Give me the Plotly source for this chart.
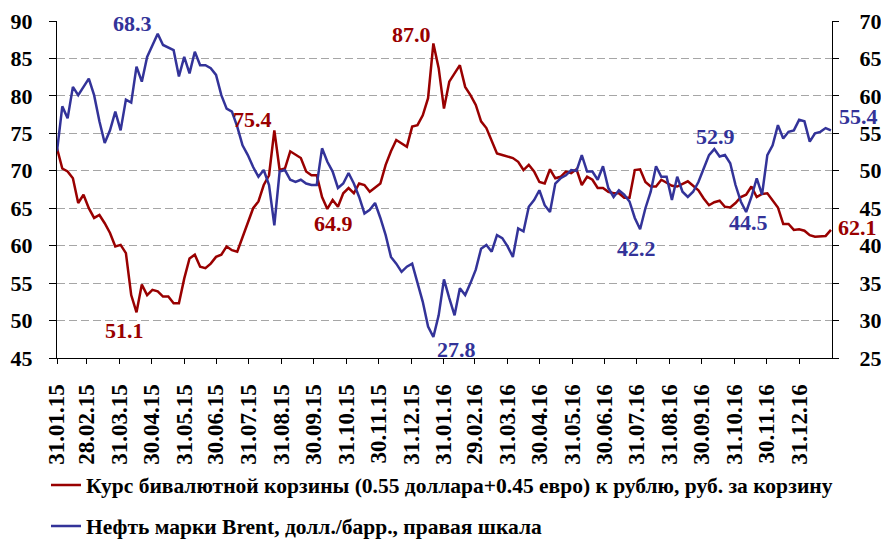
import pandas as pd
import plotly.graph_objects as go

# sampling dates (every 5 days from 31.01.2015 to 30.01.2017)
dates = pd.date_range("2015-01-31", periods=147, freq="5D")

basket = [
    73.0, 70.3, 69.9, 69.0, 65.7, 66.8, 65.0, 63.7, 64.1, 63.0,
    61.7, 59.9, 60.1, 59.0, 53.4, 51.1, 54.8, 53.4, 54.1, 53.9,
    53.2, 53.2, 52.3, 52.3, 55.6, 58.3, 58.8, 57.2, 57.0, 57.6,
    58.5, 58.8, 59.9, 59.4, 59.2, 61.2, 63.0, 65.0, 65.9, 68.1,
    69.4, 75.4, 70.1, 70.3, 72.6, 72.1, 71.7, 69.9, 69.4, 69.4,
    66.5, 64.9, 66.1, 65.2, 67.0, 67.7, 67.0, 68.3, 68.1, 67.2,
    67.7, 68.3, 70.8, 72.6, 74.1, 73.7, 73.2, 75.9, 76.1, 77.4,
    79.7, 87.0, 83.7, 78.3, 81.9, 83.0, 84.1, 81.2, 80.1, 78.8,
    76.6, 75.7, 74.1, 72.3, 72.1, 71.9, 71.7, 71.2, 70.1, 70.8,
    69.9, 68.5, 68.3, 70.2, 69.0, 69.2, 69.9, 69.7, 70.2, 68.1,
    69.2, 68.8, 67.7, 67.7, 67.2, 67.0, 67.0, 66.4, 66.4, 70.1,
    70.2, 68.5, 67.9, 67.9, 68.8, 68.4, 68.0, 67.9, 68.2, 68.6,
    68.0, 67.4, 66.3, 65.4, 65.8, 66.0, 65.2, 65.1, 65.7, 66.5,
    66.8, 67.9, 66.5, 66.9, 67.0, 66.1, 65.1, 62.9, 62.9, 62.1,
    62.2, 62.0, 61.4, 61.2, 61.2, 61.3, 62.1,
]

brent = [
    52.6, 58.6, 57.0, 61.2, 60.1, 61.2, 62.3, 60.1, 56.6, 53.7,
    55.4, 57.9, 55.4, 59.5, 59.1, 63.9, 61.9, 65.2, 66.8, 68.3,
    66.8, 66.4, 66.1, 62.6, 65.2, 63.0, 65.9, 64.1, 64.1, 63.7,
    62.8, 60.1, 58.3, 57.9, 55.9, 53.4, 52.1, 50.5, 49.2, 50.1,
    48.1, 42.7, 49.9, 50.1, 48.8, 48.5, 48.8, 48.3, 48.1, 48.1,
    53.0, 51.2, 49.9, 47.7, 48.3, 49.7, 48.3, 46.5, 44.3, 44.8,
    45.7, 43.7, 41.4, 38.5, 37.6, 36.5, 37.2, 37.6, 35.2, 32.5,
    29.2, 27.8, 30.7, 35.5, 33.0, 30.7, 34.3, 33.4, 35.0, 36.8,
    39.6, 40.1, 39.2, 41.4, 41.0, 39.9, 38.5, 42.3, 41.9, 45.2,
    46.1, 47.4, 45.4, 44.5, 48.3, 49.0, 49.4, 50.1, 50.0, 52.1,
    49.9, 49.9, 48.8, 50.6, 47.7, 46.5, 47.4, 46.8, 45.9, 43.7,
    42.2, 45.0, 47.2, 50.6, 49.2, 49.2, 46.1, 49.2, 47.2, 46.5,
    47.2, 48.5, 50.3, 52.1, 52.9, 51.9, 52.1, 51.0, 48.1, 45.9,
    44.5, 46.5, 49.0, 46.8, 52.1, 53.4, 56.1, 54.3, 55.2, 55.4,
    56.8, 56.6, 53.9, 55.0, 55.2, 55.7, 55.4,
]

tick_dates = [
    "2015-01-31", "2015-02-28", "2015-03-31", "2015-04-30", "2015-05-31", "2015-06-30",
    "2015-07-31", "2015-08-31", "2015-09-30", "2015-10-31", "2015-11-30", "2015-12-31",
    "2016-01-31", "2016-02-29", "2016-03-31", "2016-04-30", "2016-05-31", "2016-06-30",
    "2016-07-31", "2016-08-31", "2016-09-30", "2016-10-31", "2016-11-30", "2016-12-31",
]
tick_labels = [pd.Timestamp(d).strftime("%d.%m.%y") for d in tick_dates]

name_basket = "Курс бивалютной корзины (0.55 доллара+0.45 евро) к рублю, руб. за корзину"
name_brent = "Нефть марки Brent, долл./барр., правая шкала"

RED = "#990000"
BLUE = "#333399"
FONT = "Liberation Serif"

# labels: (series, index, xshift, yshift)
labels = [
    ("brent", 19, -25, 10),
    ("basket", 41, -22, 11),
    ("basket", 71, -22, 9),
    ("basket", 15, -12, -18),
    ("basket", 51, 6, -15),
    ("brent", 71, 23, -12),
    ("brent", 124, 1, 13),
    ("brent", 110, -4, -19),
    ("brent", 130, 2, -11),
    ("brent", 146, 28, 14),
    ("basket", 146, 27, 2),
]

fig = go.Figure()
fig.add_trace(go.Scatter(x=dates, y=basket, name=name_basket, mode="lines",
                         line=dict(color=RED, width=2.5), yaxis="y", legend="legend"))
fig.add_trace(go.Scatter(x=dates, y=brent, name=name_brent, mode="lines",
                         line=dict(color=BLUE, width=2.5), yaxis="y2", legend="legend2"))

annotations = []
for s, i, dx, dy in labels:
    vals = basket if s == "basket" else brent
    annotations.append(dict(
        x=dates[i], y=vals[i], xref="x", yref="y" if s == "basket" else "y2",
        text=f"{vals[i]:.1f}", showarrow=False, xshift=dx, yshift=dy,
        font=dict(family=FONT, size=22, color=RED if s == "basket" else BLUE, weight="bold"),
    ))

tickfont = dict(family=FONT, size=22, color="black", weight="bold")
xtickfont = dict(family=FONT, size=23, color="black", weight="bold")
legfont = dict(family=FONT, size=21.5, color="black", weight="bold")

fig.update_layout(
    width=881, height=539,
    margin=dict(l=57, r=49, t=21, b=181, autoexpand=False),
    paper_bgcolor="white", plot_bgcolor="white",
    showlegend=True,
    annotations=annotations,
    xaxis=dict(type="date", range=["2015-01-31", "2017-01-31"],
               tickvals=tick_dates, ticktext=tick_labels, tickangle=-90,
               ticks="outside", ticklen=5, tickcolor="black", tickwidth=1,
               showline=True, linecolor="black", linewidth=1.3,
               showgrid=False, zeroline=False, tickfont=xtickfont,
               ticklabelstandoff=11, automargin=False),
    yaxis=dict(range=[45, 90], dtick=5, tick0=45, ticks="outside", ticklen=7,
               tickcolor="black", showline=True, linecolor="black", linewidth=1.3,
               showgrid=True, gridcolor="#A6A6A6", gridwidth=1.2, griddash="8px,4px",
               zeroline=False, tickfont=tickfont, ticklabelstandoff=12, automargin=False),
    yaxis2=dict(range=[25, 70], dtick=5, tick0=25, overlaying="y", side="right",
                ticks="outside", ticklen=6, tickcolor="black", showline=True,
                linecolor="black", linewidth=1.3, showgrid=False, zeroline=False,
                tickfont=tickfont, ticklabelstandoff=16, automargin=False),
    legend=dict(x=-0.0142, y=-0.377, xanchor="left", yanchor="middle",
                font=legfont, bgcolor="rgba(0,0,0,0)"),
    legend2=dict(x=-0.0142, y=-0.4985, xanchor="left", yanchor="middle",
                 font=legfont, bgcolor="rgba(0,0,0,0)"),
)

fig.write_html("out.html", config={"displayModeBar": False},
               post_script="document.body.style.margin='0';document.body.style.overflow='hidden';")
